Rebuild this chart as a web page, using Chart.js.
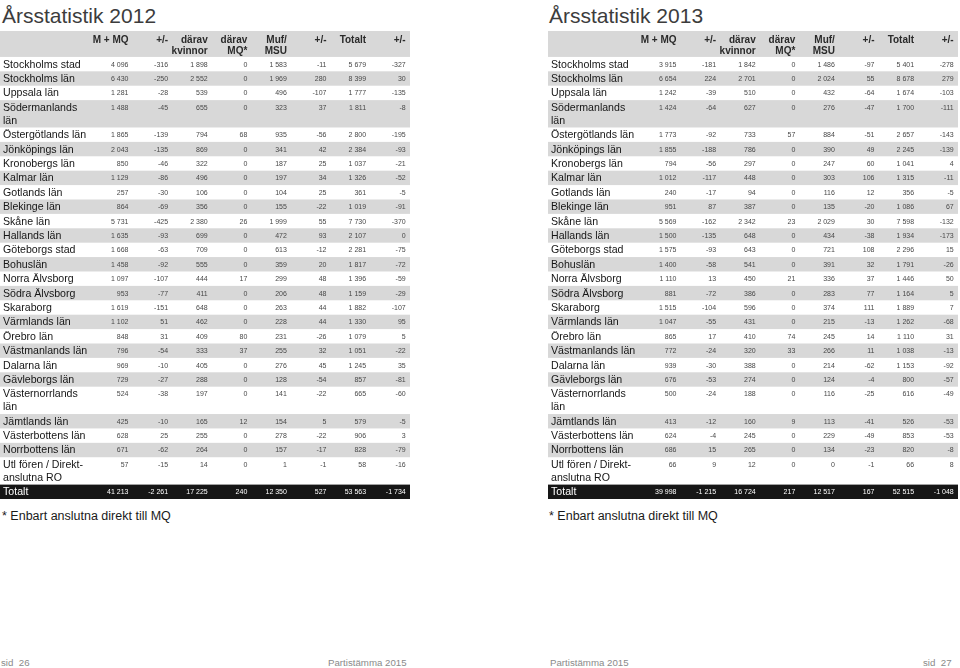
<!DOCTYPE html>
<html lang="sv">
<head>
<meta charset="utf-8">
<title>Årsstatistik 2012 och 2013</title>
<script src="https://cdn.jsdelivr.net/npm/chart.js@4.4.1/dist/chart.umd.min.js"></script>
<style>
html,body{margin:0;padding:0;background:#fff;}
body{width:960px;height:668px;position:relative;overflow:hidden;font-family:"Liberation Sans",Arial,Helvetica,sans-serif;}
.title{position:absolute;top:5px;font-size:21px;line-height:21px;color:#3c3c3c;white-space:nowrap;}
.note{position:absolute;top:509px;font-size:12.5px;line-height:14px;color:#1a1a1a;white-space:nowrap;}
.foot{position:absolute;top:657px;font-size:9.7px;line-height:12px;color:#8a8a8a;white-space:nowrap;}
.tbl{position:absolute;top:31px;width:410px;height:468px;}
.tbl canvas{display:block;}
</style>
</head>
<body>
<div class="title" style="left:2px">Årsstatistik 2012</div>
<div class="title" style="left:549px">Årsstatistik 2013</div>
<div class="tbl" style="left:0px"><canvas id="t2012" width="410" height="468"></canvas></div>
<div class="tbl" style="left:548px"><canvas id="t2013" width="410" height="468"></canvas></div>
<div class="note" style="left:2px">* Enbart anslutna direkt till MQ</div>
<div class="note" style="left:549px">* Enbart anslutna direkt till MQ</div>
<div class="foot" style="left:1px">sid&nbsp; 26</div>
<div class="foot" style="left:328px">Partistämma 2015</div>
<div class="foot" style="left:550px">Partistämma 2015</div>
<div class="foot" style="left:923px">sid&nbsp; 27</div>
<script>
// ---------- DATA ----------
const REGIONS = [
  "Stockholms stad", "Stockholms län", "Uppsala län", "Södermanlands\nlän",
  "Östergötlands län", "Jönköpings län", "Kronobergs län", "Kalmar län",
  "Gotlands län", "Blekinge län", "Skåne län", "Hallands län",
  "Göteborgs stad", "Bohuslän", "Norra Älvsborg", "Södra Älvsborg",
  "Skaraborg", "Värmlands län", "Örebro län", "Västmanlands län",
  "Dalarna län", "Gävleborgs län", "Västernorrlands\nlän", "Jämtlands län",
  "Västerbottens län", "Norrbottens län", "Utl fören / Direkt-\nanslutna RO"
];
const TOTAL_LABEL = "Totalt";
const COLUMN_HEADERS = [
  ["M + MQ"], ["+/-"], ["därav", "kvinnor"], ["därav", "MQ*"],
  ["Muf/", "MSU"], ["+/-"], ["Totalt"], ["+/-"]
];

// 2012
const M_MQ_2012      = [4096, 6430, 1281, 1488, 1865, 2043, 850, 1129, 257, 864, 5731, 1635, 1668, 1458, 1097, 953, 1619, 1102, 848, 796, 969, 729, 524, 425, 628, 671, 57];
const M_MQ_CHG_2012  = [-316, -250, -28, -45, -139, -135, -46, -86, -30, -69, -425, -93, -63, -92, -107, -77, -151, 51, 31, -54, -10, -27, -38, -10, 25, -62, -15];
const KVINNOR_2012   = [1898, 2552, 539, 655, 794, 869, 322, 496, 106, 356, 2380, 699, 709, 555, 444, 411, 648, 462, 409, 333, 405, 288, 197, 165, 255, 264, 14];
const MQ_STAR_2012   = [0, 0, 0, 0, 68, 0, 0, 0, 0, 0, 26, 0, 0, 0, 17, 0, 0, 0, 80, 37, 0, 0, 0, 12, 0, 0, 0];
const MUF_2012       = [1583, 1969, 496, 323, 935, 341, 187, 197, 104, 155, 1999, 472, 613, 359, 299, 206, 263, 228, 231, 255, 276, 128, 141, 154, 278, 157, 1];
const MUF_CHG_2012   = [-11, 280, -107, 37, -56, 42, 25, 34, 25, -22, 55, 93, -12, 20, 48, 48, 44, 44, -26, 32, 45, -54, -22, 5, -22, -17, -1];
const TOTAL_2012     = [5679, 8399, 1777, 1811, 2800, 2384, 1037, 1326, 361, 1019, 7730, 2107, 2281, 1817, 1396, 1159, 1882, 1330, 1079, 1051, 1245, 857, 665, 579, 906, 828, 58];
const TOTAL_CHG_2012 = [-327, 30, -135, -8, -195, -93, -21, -52, -5, -91, -370, 0, -75, -72, -59, -29, -107, 95, 5, -22, 35, -81, -60, -5, 3, -79, -16];
const SUMS_2012      = [41213, -2261, 17225, 240, 12350, 527, 53563, -1734];

// 2013
const M_MQ_2013      = [3915, 6654, 1242, 1424, 1773, 1855, 794, 1012, 240, 951, 5569, 1500, 1575, 1400, 1110, 881, 1515, 1047, 865, 772, 939, 676, 500, 413, 624, 686, 66];
const M_MQ_CHG_2013  = [-181, 224, -39, -64, -92, -188, -56, -117, -17, 87, -162, -135, -93, -58, 13, -72, -104, -55, 17, -24, -30, -53, -24, -12, -4, 15, 9];
const KVINNOR_2013   = [1842, 2701, 510, 627, 733, 786, 297, 448, 94, 387, 2342, 648, 643, 541, 450, 386, 596, 431, 410, 320, 388, 274, 188, 160, 245, 265, 12];
const MQ_STAR_2013   = [0, 0, 0, 0, 57, 0, 0, 0, 0, 0, 23, 0, 0, 0, 21, 0, 0, 0, 74, 33, 0, 0, 0, 9, 0, 0, 0];
const MUF_2013       = [1486, 2024, 432, 276, 884, 390, 247, 303, 116, 135, 2029, 434, 721, 391, 336, 283, 374, 215, 245, 266, 214, 124, 116, 113, 229, 134, 0];
const MUF_CHG_2013   = [-97, 55, -64, -47, -51, 49, 60, 106, 12, -20, 30, -38, 108, 32, 37, 77, 111, -13, 14, 11, -62, -4, -25, -41, -49, -23, -1];
const TOTAL_2013     = [5401, 8678, 1674, 1700, 2657, 2245, 1041, 1315, 356, 1086, 7598, 1934, 2296, 1791, 1446, 1164, 1889, 1262, 1110, 1038, 1153, 800, 616, 526, 853, 820, 66];
const TOTAL_CHG_2013 = [-278, 279, -103, -111, -143, -139, 4, -11, -5, 67, -132, -173, 15, -26, 50, 5, 7, -68, 31, -13, -92, -57, -49, -53, -53, -8, 8];
const SUMS_2013      = [39998, -1215, 16724, 217, 12517, 167, 52515, -1048];

// ---------- LAYOUT / STYLE ----------
const LAYOUT = {
  width: 410,
  firstColRight: 128.5,
  colStep: 39.6,
  headerUnits: 1.8,
  extraLineUnits: 0.9,
  headerLines: [0.62, 1.38],
  labelInset: 3
};
const STYLE = {
  band: "#d8d8d8",
  totalBand: "#161616",
  headerFont: 'bold 10px "Liberation Sans", Arial, sans-serif',
  headerColor: "#2a2a2a",
  labelFont: '10.6px "Liberation Sans", Arial, sans-serif',
  labelColor: "#151515",
  valueFont: '7px "Liberation Sans", Arial, sans-serif',
  valueColor: "#484848",
  totalColor: "#ffffff"
};

function fmt(v) {
  const s = String(Math.abs(v)).replace(/\B(?=(\d{3})+(?!\d))/g, " ");
  return (v < 0 ? "-" : "") + s;
}

function makeTable(canvasId, series, sums) {
  const rowTop = [], rowH = [];
  let acc = LAYOUT.headerUnits;
  REGIONS.forEach(name => {
    const h = 1 + (name.split("\n").length - 1) * LAYOUT.extraLineUnits;
    rowTop.push(acc); rowH.push(h); acc += h;
  });
  const totalTop = acc;
  const yMax = acc + 1;

  const datasets = series.map((values, ci) => ({
    label: COLUMN_HEADERS[ci].join(" "),
    data: values.map((v, ri) => ({ x: ci, y: rowTop[ri] + 0.5 }))
                .concat([{ x: ci, y: totalTop + 0.5 }]),
    cellValues: values.concat([sums[ci]]),
    pointRadius: 0, pointHoverRadius: 0, pointHitRadius: 0, showLine: false
  }));

  const plugin = {
    id: "tableCells",
    beforeDatasetsDraw(chart) {
      const { ctx, chartArea: a, scales: { y } } = chart;
      const band = (t, b, color) => {
        const y0 = y.getPixelForValue(t), y1 = y.getPixelForValue(b);
        ctx.fillStyle = color;
        ctx.fillRect(a.left, y0, a.right - a.left, y1 - y0);
      };
      ctx.save();
      band(0, LAYOUT.headerUnits, STYLE.band);
      rowTop.forEach((t, i) => { if (i % 2 === 1) band(t, t + rowH[i], STYLE.band); });
      band(totalTop, totalTop + 1, STYLE.totalBand);
      ctx.restore();
    },
    afterDatasetsDraw(chart) {
      const { ctx, chartArea: a, scales: { x, y } } = chart;
      ctx.save();
      ctx.textBaseline = "middle";
      ctx.font = STYLE.headerFont;
      ctx.fillStyle = STYLE.headerColor;
      ctx.textAlign = "right";
      COLUMN_HEADERS.forEach((lines, ci) => {
        const px = x.getPixelForValue(ci);
        lines.forEach((line, k) => ctx.fillText(line, px, y.getPixelForValue(LAYOUT.headerLines[k])));
      });
      ctx.textAlign = "left";
      ctx.font = STYLE.labelFont;
      REGIONS.forEach((name, ri) => {
        ctx.fillStyle = STYLE.labelColor;
        name.split("\n").forEach((line, k) => {
          ctx.fillText(line, a.left + LAYOUT.labelInset,
            y.getPixelForValue(rowTop[ri] + 0.5 + k * LAYOUT.extraLineUnits) + 0.5);
        });
      });
      ctx.fillStyle = STYLE.totalColor;
      ctx.fillText(TOTAL_LABEL, a.left + LAYOUT.labelInset, y.getPixelForValue(totalTop + 0.5) + 0.5);
      ctx.textAlign = "right";
      ctx.font = STYLE.valueFont;
      chart.data.datasets.forEach((ds, di) => {
        const meta = chart.getDatasetMeta(di);
        meta.data.forEach((pt, i) => {
          const isTotal = i === ds.cellValues.length - 1;
          ctx.fillStyle = isTotal ? STYLE.totalColor : STYLE.valueColor;
          ctx.fillText(fmt(ds.cellValues[i]), pt.x, pt.y + 0.5);
        });
      });
      ctx.restore();
    }
  };

  return new Chart(document.getElementById(canvasId), {
    type: "scatter",
    data: { datasets },
    options: {
      responsive: false,
      animation: false,
      events: [],
      layout: { padding: 0 },
      plugins: { legend: { display: false }, tooltip: { enabled: false }, title: { display: false } },
      scales: {
        x: {
          type: "linear", display: false,
          min: -LAYOUT.firstColRight / LAYOUT.colStep,
          max: (LAYOUT.width - LAYOUT.firstColRight) / LAYOUT.colStep
        },
        y: { type: "linear", display: false, reverse: true, min: 0, max: yMax }
      }
    },
    plugins: [plugin]
  });
}

makeTable("t2012",
  [M_MQ_2012, M_MQ_CHG_2012, KVINNOR_2012, MQ_STAR_2012, MUF_2012, MUF_CHG_2012, TOTAL_2012, TOTAL_CHG_2012],
  SUMS_2012);
makeTable("t2013",
  [M_MQ_2013, M_MQ_CHG_2013, KVINNOR_2013, MQ_STAR_2013, MUF_2013, MUF_CHG_2013, TOTAL_2013, TOTAL_CHG_2013],
  SUMS_2013);
</script>
</body>
</html>
